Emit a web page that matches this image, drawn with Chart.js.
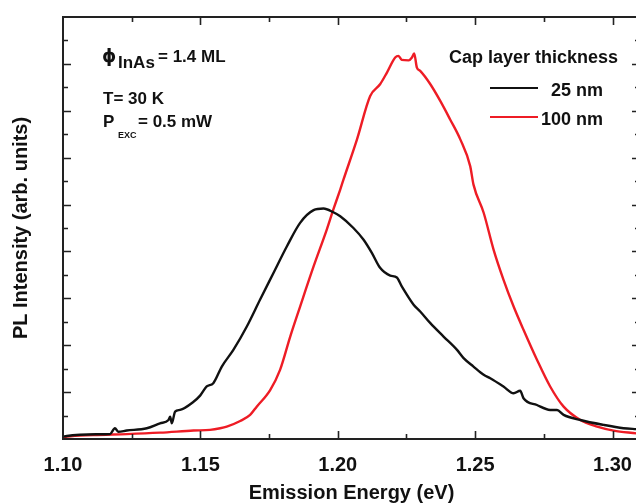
<!DOCTYPE html>
<html>
<head>
<meta charset="utf-8">
<script src="https://cdn.jsdelivr.net/npm/chart.js@4"></script>
<style>
    html, body { margin: 0; padding: 0; background: #fff; overflow: hidden; }
    #wrap { width: 650px; height: 503px; }
</style>
</head>
<body>
<div id="wrap"><canvas id="myChart" width="650" height="503"></canvas></div>
<script>
// dados
const energia25 = [1.1000, 1.1014, 1.1062, 1.1120, 1.1171, 1.1189, 1.1201, 1.1232, 1.1305, 1.1353, 1.1384, 1.1390, 1.1396, 1.1408, 1.1426, 1.1475, 1.1499, 1.1523, 1.1547, 1.1578, 1.1620, 1.1669, 1.1717, 1.1766, 1.1815, 1.1863, 1.1912, 1.1948, 1.1984, 1.2009, 1.2057, 1.2094, 1.2124, 1.2154, 1.2191, 1.2215, 1.2233, 1.2276, 1.2300, 1.2337, 1.2385, 1.2434, 1.2458, 1.2494, 1.2531, 1.2555, 1.2603, 1.2640, 1.2664, 1.2676, 1.2725, 1.2773, 1.2798, 1.2822, 1.2883, 1.2968, 1.3040, 1.3087, 1.3100]
const intensidade25 = [0.10, 0.13, 0.18, 0.20, 0.21, 0.46, 0.31, 0.36, 0.46, 0.67, 0.81, 0.95, 0.67, 1.17, 1.24, 1.59, 1.85, 2.24, 2.38, 3.09, 3.80, 4.80, 5.94, 7.08, 8.22, 9.22, 9.76, 9.83, 9.67, 9.50, 9.00, 8.50, 7.94, 7.30, 6.97, 6.89, 6.51, 5.73, 5.44, 4.94, 4.37, 3.80, 3.45, 3.09, 2.74, 2.59, 2.24, 1.95, 2.06, 1.74, 1.45, 1.24, 1.24, 1.03, 0.81, 0.60, 0.46, 0.42, 0.41]

const energia100 = [1.1000, 1.1014, 1.1110, 1.1232, 1.1353, 1.1475, 1.1535, 1.1572, 1.1596, 1.1645, 1.1681, 1.1705, 1.1754, 1.1790, 1.1827, 1.1863, 1.1912, 1.1960, 1.1984, 1.2009, 1.2021, 1.2070, 1.2118, 1.2154, 1.2179, 1.2209, 1.2221, 1.2233, 1.2258, 1.2270, 1.2278, 1.2288, 1.2300, 1.2337, 1.2373, 1.2409, 1.2446, 1.2482, 1.2494, 1.2531, 1.2567, 1.2603, 1.2640, 1.2676, 1.2725, 1.2773, 1.2822, 1.2883, 1.2944, 1.3004, 1.3087, 1.3100]
const intensidade100 = [0.05, 0.10, 0.17, 0.21, 0.27, 0.36, 0.39, 0.46, 0.53, 0.77, 1.03, 1.38, 2.09, 2.95, 4.37, 5.65, 7.36, 8.93, 9.79, 10.64, 11.07, 12.78, 14.63, 15.13, 15.63, 16.27, 16.34, 16.17, 16.15, 16.27, 16.45, 15.84, 15.70, 15.13, 14.42, 13.63, 12.78, 11.64, 10.85, 9.65, 8.08, 6.80, 5.65, 4.66, 3.38, 2.24, 1.38, 0.81, 0.53, 0.36, 0.24, 0.22]

const rotulos = ['25 nm', '100 nm']
const cores = ['#111111', '#ee1c25']
const tituloLegenda = 'Cap layer thickness'
const ticksX = [1.10, 1.125, 1.15, 1.175, 1.20, 1.225, 1.25, 1.275, 1.30]
const ticksY = [0, 1, 2, 3, 4, 5, 6, 7, 8, 9, 10, 11, 12, 13, 14, 15, 16, 17, 18]

const fonte = '"Liberation Sans", Arial, "DejaVu Sans", sans-serif'

function pontos(xs, ys) {
    return xs.map((x, i) => ({ x: x, y: ys[i] }))
}

// moldura, ticks para dentro, legenda e anotacoes
const moldura = {
    id: 'moldura',
    afterDraw(chart) {
        const ctx = chart.ctx
        const a = chart.chartArea
        const sx = chart.scales.x
        const sy = chart.scales.y
        ctx.save()
        ctx.strokeStyle = '#222'
        ctx.lineWidth = 2
        ctx.strokeRect(a.left, a.top, a.right - a.left, a.bottom - a.top)

        ctx.lineWidth = 1.6
        ctx.beginPath()
        ticksX.forEach((v, i) => {
            const px = Math.round(sx.getPixelForValue(v)) + 0.5
            if (px <= a.left + 2) return
            const len = i % 2 === 0 ? 8 : 5
            ctx.moveTo(px, a.bottom); ctx.lineTo(px, a.bottom - len)
            ctx.moveTo(px, a.top); ctx.lineTo(px, a.top + len)
        })
        ticksY.forEach((v, i) => {
            const py = Math.round(sy.getPixelForValue(v)) + 0.5
            if (py >= a.bottom - 2 || py <= a.top + 2) return
            const len = i % 2 === 0 ? 8 : 5
            ctx.moveTo(a.left, py); ctx.lineTo(a.left + len, py)
            ctx.moveTo(a.right, py); ctx.lineTo(a.right - len, py)
        })
        ctx.stroke()

        // legenda
        ctx.fillStyle = '#111'
        ctx.textBaseline = 'alphabetic'
        ctx.font = 'bold 18px ' + fonte
        ctx.textAlign = 'left'
        ctx.fillText(tituloLegenda, a.left + 386, 63)
        chart.data.datasets.forEach((ds, i) => {
            const y = 88 + i * 29
            ctx.strokeStyle = ds.borderColor
            ctx.lineWidth = 2
            ctx.beginPath()
            ctx.moveTo(a.left + 427, y)
            ctx.lineTo(a.left + 475, y)
            ctx.stroke()
            ctx.textAlign = 'right'
            ctx.fillText(ds.label, a.left + 540, y + 8)
        })

        // anotacoes
        ctx.textAlign = 'left'
        ctx.font = 'bold 18px "DejaVu Sans", sans-serif'
        ctx.fillText('\u03D5', a.left + 39, 62)
        ctx.font = 'bold 17px ' + fonte
        ctx.fillText('InAs', a.left + 55, 68)
        ctx.fillText('= 1.4 ML', a.left + 95, 62)
        ctx.fillText('T= 30 K', a.left + 40, 104)
        ctx.fillText('P', a.left + 40, 127)
        ctx.fillText('= 0.5 mW', a.left + 75, 127)
        ctx.font = 'bold 9px ' + fonte
        ctx.fillText('EXC', a.left + 55, 138)
        ctx.restore()
    }
}

var myChart = new Chart(document.getElementById('myChart').getContext('2d'), {
    type: 'line',
    data: {
        datasets: [
            {
                label: rotulos[0],
                data: pontos(energia25, intensidade25),
                borderColor: cores[0],
                borderWidth: 2.4,
                pointRadius: 0,
                cubicInterpolationMode: 'monotone'
            },
            {
                label: rotulos[1],
                data: pontos(energia100, intensidade100),
                borderColor: cores[1],
                borderWidth: 2.4,
                pointRadius: 0,
                cubicInterpolationMode: 'monotone'
            }
        ]
    },
    options: {
        responsive: false,
        animation: false,
        layout: { padding: { top: 17, right: 10, left: 0, bottom: 0 } },
        plugins: {
            legend: { display: false },
            tooltip: { enabled: false }
        },
        scales: {
            x: {
                type: 'linear',
                min: 1.10,
                max: 1.31,
                grid: { display: false },
                border: { display: false },
                ticks: {
                    stepSize: 0.05,
                    includeBounds: false,
                    maxRotation: 0,
                    autoSkip: false,
                    padding: 6,
                    color: '#111',
                    font: { family: fonte, size: 20, weight: 'bold' },
                    callback: v => v.toFixed(2)
                },
                title: {
                    display: true,
                    text: 'Emission Energy (eV)',
                    color: '#111',
                    font: { family: fonte, size: 20, weight: 'bold' },
                    padding: { top: 0, bottom: -2 }
                },
                afterFit: s => { s.height = 64 }
            },
            y: {
                min: 0,
                max: 18,
                grid: { display: false },
                border: { display: false },
                ticks: { display: false },
                title: {
                    display: true,
                    text: 'PL Intensity (arb. units)',
                    color: '#111',
                    font: { family: fonte, size: 20, weight: 'bold' },
                    padding: { top: 9, bottom: 0 }
                },
                afterFit: s => { s.width = 63 }
            }
        }
    },
    plugins: [moldura]
})
</script>
</body>
</html>
